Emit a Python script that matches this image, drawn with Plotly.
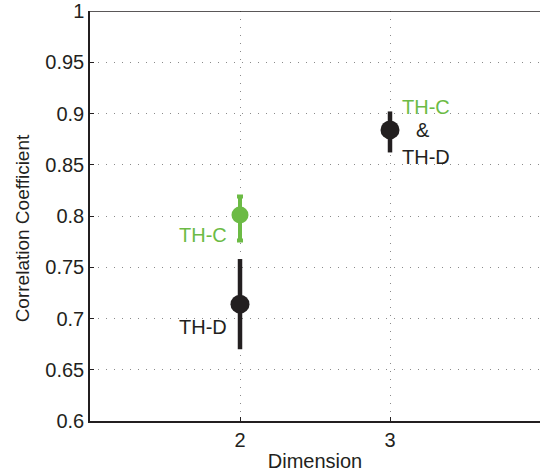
import plotly.graph_objects as go

dims = [2, 3]
thd_mean = [0.714, 0.884]
thd_hi = [0.758, 0.902]
thd_lo = [0.670, 0.862]
thc_dim = [2]
thc_mean = [0.801]
thc_hi = [0.819]
thc_lo = [0.776]

yticks = [0.6, 0.65, 0.7, 0.75, 0.8, 0.85, 0.9, 0.95, 1]
ytick_text = ["0.6", "0.65", "0.7", "0.75", "0.8", "0.85", "0.9", "0.95", "1"]

GREEN = "#6cbb45"
BLACK = "#231f20"
FONT = "Liberation Sans, Arial, sans-serif"

fig = go.Figure()
fig.add_trace(go.Scatter(
    x=dims, y=thd_mean, mode="markers",
    marker=dict(color=BLACK, size=19),
    error_y=dict(type="data", symmetric=False,
                 array=[h - m for h, m in zip(thd_hi, thd_mean)],
                 arrayminus=[m - l for m, l in zip(thd_mean, thd_lo)],
                 color=BLACK, thickness=4.5, width=0),
    showlegend=False))
fig.add_trace(go.Scatter(
    x=thc_dim, y=thc_mean, mode="markers",
    marker=dict(color=GREEN, size=17),
    error_y=dict(type="data", symmetric=False,
                 array=[h - m for h, m in zip(thc_hi, thc_mean)],
                 arrayminus=[m - l for m, l in zip(thc_mean, thc_lo)],
                 color=GREEN, thickness=4, width=3),
    showlegend=False))

ann = [
    (1.75, 0.7815, "TH-C", GREEN),
    (1.75, 0.692, "TH-D", BLACK),
    (3.24, 0.9065, "TH-C", GREEN),
    (3.22, 0.8835, "&", BLACK),
    (3.24, 0.8575, "TH-D", BLACK),
]
for x, y, t, c in ann:
    fig.add_annotation(x=x, y=y, text=t, showarrow=False,
                       font=dict(color=c, size=20, family=FONT),
                       xanchor="center", yanchor="middle")

# y-axis title placed as rotated text (slightly below the plot centre, as in the original)
fig.add_annotation(xref="paper", yref="paper", x=-0.151, y=0.47,
                   text="Correlation Coefficient", textangle=-90, showarrow=False,
                   font=dict(color=BLACK, size=19, family=FONT),
                   xanchor="center", yanchor="middle")

fig.add_shape(type="line", xref="paper", yref="y", x0=0, x1=1, y0=1, y1=1,
              line=dict(color=BLACK, width=1.5))

GRID = dict(showgrid=True, gridcolor="#8a8a8a", griddash="1px,7px", gridwidth=1)

fig.update_layout(
    width=540, height=474,
    margin=dict(l=90, r=0, t=11, b=53),
    plot_bgcolor="white", paper_bgcolor="white",
    font=dict(family=FONT, color=BLACK),
    xaxis=dict(range=[1, 4], tickvals=[2, 3], ticktext=["2", "3"],
               showline=True, linecolor=BLACK, linewidth=1.5,
               ticks="inside", ticklen=4, tickcolor=BLACK,
               tickfont=dict(size=20), zeroline=False,
               title=dict(text="Dimension", font=dict(size=20), standoff=4),
               **GRID),
    yaxis=dict(range=[0.6, 1], tickvals=yticks, ticktext=ytick_text,
               showline=True, linecolor=BLACK, linewidth=1.5,
               ticks="inside", ticklen=4, tickcolor=BLACK,
               tickfont=dict(size=20), zeroline=False,
               **GRID),
)

fig.write_html("out.html")
